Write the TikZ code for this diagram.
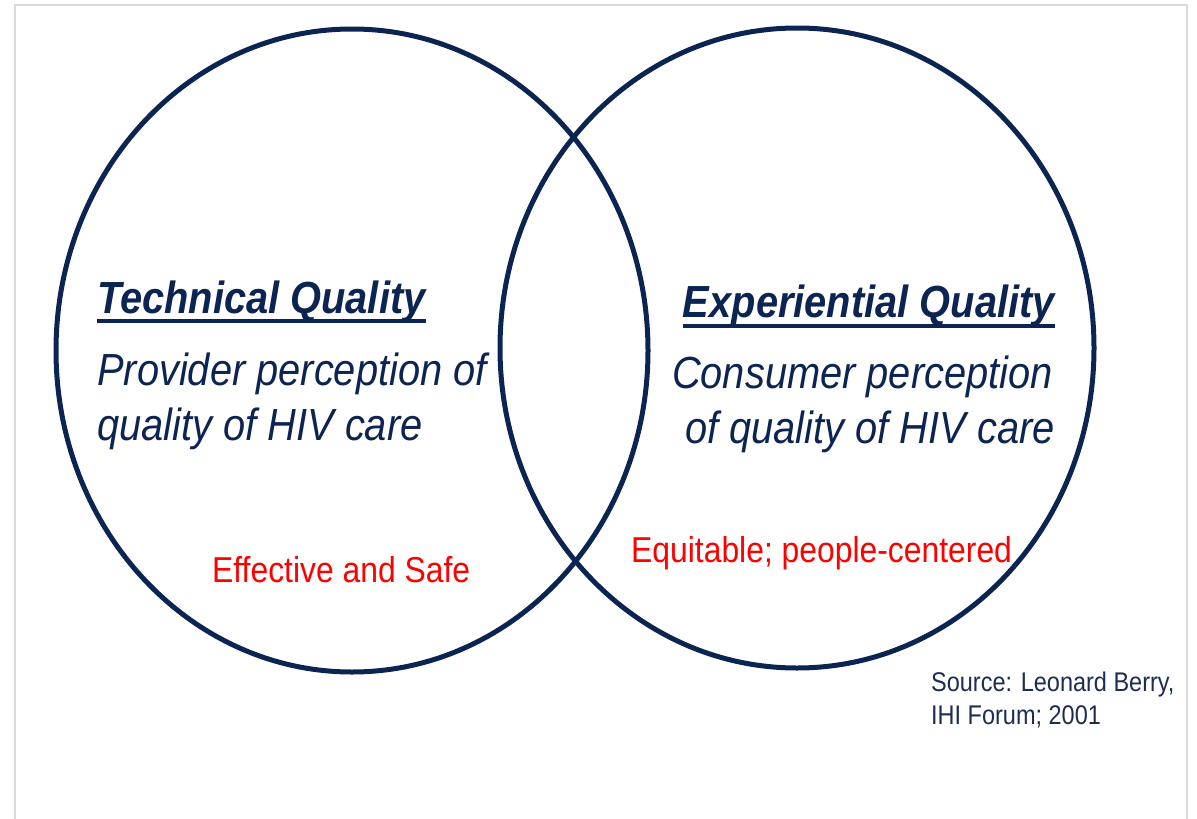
\documentclass[tikz,border=0pt]{standalone}
\usepackage{fontspec}
\setmainfont{Liberation Sans}
\usetikzlibrary{shapes.geometric}
\definecolor{navy}{RGB}{12,36,82}
\definecolor{srcnavy}{RGB}{28,44,84}
\definecolor{framegray}{RGB}{217,217,217}
\newcommand{\sq}[1]{\scalebox{0.885}[1]{#1}}
\newcommand{\sqs}[1]{\scalebox{0.87}[1]{#1}}
\tikzset{
  venn/.style={ellipse, draw=navy, line width=5pt, inner sep=0pt},
  headtxt/.style={inner sep=0pt, text=navy, font=\fontsize{45}{54}\selectfont\bfseries\itshape},
  bodytxt/.style={inner sep=0pt, text=navy, font=\fontsize{45}{54}\selectfont\itshape},
  redtxt/.style={inner sep=0pt, text=red, font=\fontsize{36}{43}\selectfont},
  srctxt/.style={inner sep=0pt, text=srcnavy, font=\fontsize{27}{33}\selectfont},
  uline/.style={draw=navy, line width=3.5pt}
}
\begin{document}
\begin{tikzpicture}[x=1pt,y=-1pt]
\useasboundingbox (0,0) rectangle (1197,819);
\draw[framegray, line width=2pt] (15,819) -- (15,5) -- (1187,5) -- (1187,819);
\node[venn, minimum width=592pt, minimum height=643pt] (left) at (352,350.5) {};
\node[venn, minimum width=594pt, minimum height=640pt] (right) at (797,348) {};
% left texts
\node[headtxt, anchor=base west] (tq) at (97,313) {\sq{Technical Quality}};
\draw[uline] ([yshift=-8pt]tq.base west) -- ([yshift=-8pt]tq.base east);
\node[bodytxt, anchor=base west] (pp1) at (97,385) {\sq{Provider perception of}};
\node[bodytxt, anchor=base west] (pp2) at (97,440) {\sq{quality of HIV care}};
% right texts
\node[headtxt, anchor=base east] (eq) at (1055,317) {\sq{Experiential Quality}};
\draw[uline] ([yshift=-9pt]eq.base west) -- ([yshift=-9pt]eq.base east);
\node[bodytxt, anchor=base east] (cp1) at (1053,388) {\sq{Consumer perception}};
\node[bodytxt, anchor=base east] (cp2) at (1055,443) {\sq{of quality of HIV care}};
% red labels
\node[redtxt, anchor=base west] (es) at (212,582) {\sq{Effective and Safe}};
\node[redtxt, anchor=base west] (ep) at (631,562) {\sq{Equitable; people-centered}};
% source
\node[srctxt, anchor=base west] (s1) at (931,691) {\sqs{Source: Leonard Berry,}};
\node[srctxt, anchor=base west] (s2) at (931,724) {\sqs{IHI Forum; 2001}};
\end{tikzpicture}
\end{document}
